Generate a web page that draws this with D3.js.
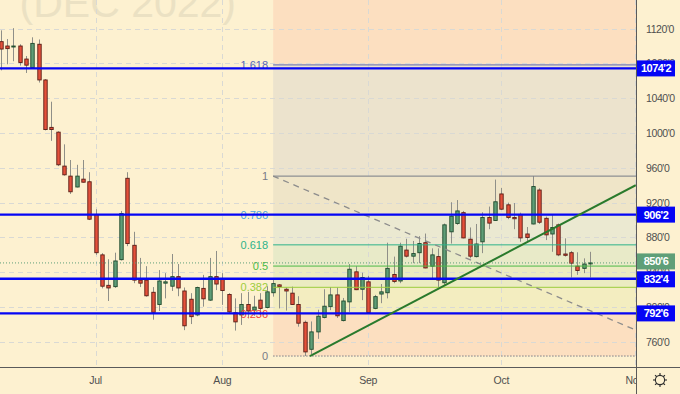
<!DOCTYPE html>
<html>
<head>
<meta charset="utf-8">
<script src="https://cdn.jsdelivr.net/npm/d3@7"></script>
<style>
  html, body { margin: 0; padding: 0; background: #fdf1d0; }
  svg { display: block; font-family: "Liberation Sans", Arial, sans-serif; }
</style>
</head>
<body>
<div id="chart"></div>
<script>
// Daily candles [open, high, low, close], one per trading day (mid June -> late Oct 2022)
const candles = [
  [1105, 1118, 1072, 1096.5], [1100, 1108, 1079, 1097], [1099, 1120.5, 1082.5, 1100], [1100, 1102, 1077.5, 1081],
  [1085, 1088.5, 1069, 1078], [1075, 1110, 1074.5, 1103], [1102, 1107.5, 1058, 1061], [1061, 1062, 1003, 1004],
  [1006.5, 1036, 991, 1004], [1001, 1002, 962, 963.5], [962, 987, 951, 952], [950.5, 969, 930, 932.5],
  [938, 963.5, 937.5, 950.5], [947, 969, 943, 943.5], [944, 955, 900, 901], [906.5, 912.5, 860, 862.5],
  [860, 862, 821.5, 824], [825, 855, 807, 822], [823.5, 862.5, 822, 853], [854.5, 910.5, 853.5, 907.5],
  [948, 955, 870, 873], [871, 886.5, 827.5, 831], [831, 856.5, 823, 827.5], [831, 847, 812, 813],
  [817, 823, 785.5, 794], [803, 842.5, 795.5, 830], [827.5, 839, 810, 829], [824, 861, 818.5, 835],
  [835, 849.5, 812.5, 822], [818.5, 822.5, 773.5, 778.5], [809, 816, 780.5, 789], [791, 823.5, 789.5, 822.5],
  [821.5, 837, 800.5, 809.5], [808, 856.5, 807, 835], [835, 864.5, 819.5, 826.5], [832, 839, 802.5, 819],
  [814.5, 816, 793, 794.5], [793.5, 810, 773, 783], [791, 816, 779.5, 803], [803, 817.5, 787, 795.5],
  [796.5, 813, 790, 800], [808, 816, 791, 798.5], [799.5, 824, 798.5, 817.5], [816.5, 833, 812, 827],
  [825.5, 826.5, 798.5, 823.5], [820.5, 822.5, 796, 818.5], [816, 823.5, 802.5, 803], [803, 812.5, 777.5, 781.5],
  [782.5, 784.5, 743.75, 748.5], [751.5, 783.5, 746, 771.5], [771.5, 797, 763.5, 789.5], [788, 820.5, 787, 801],
  [800.5, 823, 796.5, 814], [814, 822.5, 787.5, 790], [784.5, 810.5, 783.5, 807], [806, 849.5, 794.5, 843.5],
  [840.5, 847, 819.5, 820], [820.5, 839.5, 808, 834], [829, 836, 793, 793.5], [798.5, 814, 797.5, 812],
  [815, 826.5, 804.5, 817.5], [816.5, 874, 810, 844.5], [837.5, 858, 827.5, 829.5], [830, 874, 827.5, 870],
  [865.5, 878.5, 857, 858.5], [858.5, 876, 850.5, 861.5], [862.5, 881.5, 850.5, 873], [874, 884.5, 844.5, 845],
  [847, 867.5, 831.5, 860], [858, 867.5, 823, 831], [828, 896, 825.5, 894.5], [886.5, 920.5, 873, 904.5],
  [896, 923, 894.5, 910.5], [908.5, 910.5, 879, 879.5], [878, 891.5, 856, 858.5], [858, 895.5, 857, 872.5],
  [875, 909, 862, 903], [903, 915.5, 889.5, 896.5], [899.5, 946.5, 899, 921], [930, 937, 911.5, 912.5],
  [917.5, 920, 901, 903], [903, 919.5, 889.5, 901.5], [906.5, 908.5, 875, 879.5], [884, 892, 874, 880],
  [895.5, 950.5, 895, 938.5], [934.5, 936.5, 895.5, 897.5], [902, 904, 877, 883], [884, 906, 863.5, 891.5],
  [894.5, 896, 858.5, 860], [861, 879, 858, 859.5], [862.5, 864.5, 834, 850.5], [847, 863, 837, 842],
  [844.5, 856, 839, 849.5], [850.25, 863.5, 834, 850.75]
];

// Time axis: month names and the index of the month's first trading day
const monthLabels = ["Jul", "Aug", "Sep", "Oct", "Nov"];
const monthIndex = [15, 35, 58, 79, 100];

// Price axis ticks
const priceTicks = [760, 800, 840, 880, 920, 960, 1000, 1040, 1080, 1120, 1160];

// Horizontal support / resistance lines
const keyLevels = [1074.25, 906.25, 832.5, 792.75];
const lastPrice = 850.75;

// Fibonacci retracement
const fibLevels = [0, 0.236, 0.382, 0.5, 0.618, 0.786, 1, 1.618, 2.618];
const fibLow = 743.75;
const fibHigh = 950.5;
const fibStartIndex = 43;
const fibDiagonal = [[43, 950.5], [100.2, 773.6]];

// Rising trend line [index, price]
const trendLine = [[48.8, 743.75], [100.2, 940]];

const watermark = "WHEAT (DEC 2022)";

// Colours
const colors = {
    bg: "#fdf1d0",
    grid: "#d9d9d4",
    axisLine: "#5a5a5a",
    axisText: "#4f4f4f",
    up: "#5f9d77", upBorder: "#1f4a2c",
    down: "#e4503b", downBorder: "#5a1c14",
    wick: "#8f8f88",
    key: "#0505f5",
    last: "#5f9f78",
    trend: "#2a7a2c",
    diagonal: "#8c8c8c",
    fib: {0: "#787b86", 0.236: "#f44336", 0.382: "#9ccc3c", 0.5: "#4cbb45", 0.618: "#2db38a",
          0.786: "#4aa3df", 1: "#787b86", 1.618: "#5667b8", 2.618: "#f44336"}
};

const width = 680, height = 394;
const plotRight = 636, plotBottom = 367;

const x = d3.scaleLinear().domain([0, 100]).range([0.5, 634.5]);
const y = d3.scaleLinear().domain([760, 1120]).range([341.9, 28.6]);

const fmtPrice = p => `${Math.floor(p)}'${Math.round((p - Math.floor(p)) * 8)}`;
const fibPrice = lv => fibLow + lv * (fibHigh - fibLow);

const svg = d3.select("#chart").append("svg")
    .attr("width", width)
    .attr("height", height);

svg.append("rect").attr("width", width).attr("height", height).attr("fill", colors.bg);

const defs = svg.append("defs");
defs.append("clipPath").attr("id", "plotClip")
    .append("rect").attr("width", plotRight).attr("height", plotBottom);
defs.append("clipPath").attr("id", "timeClip")
    .append("rect").attr("y", plotBottom).attr("width", plotRight).attr("height", height - plotBottom);

const plot = svg.append("g").attr("clip-path", "url(#plotClip)");

// Watermark (mostly above the visible area, as in the original)
plot.append("text")
    .attr("x", 236).attr("y", 17)
    .attr("text-anchor", "end")
    .attr("font-size", 41)
    .attr("fill", "#ebe1c3")
    .text(watermark);

// Fib zone fills
const fibX0 = x(fibStartIndex);
const fibFills = plot.append("g");
fibLevels.slice(1).forEach((lv, i) => {
    const lower = fibLevels[i];
    fibFills.append("rect")
        .attr("x", fibX0)
        .attr("y", y(fibPrice(lv)))
        .attr("width", plotRight - fibX0)
        .attr("height", y(fibPrice(lower)) - y(fibPrice(lv)))
        .attr("fill", colors.fib[lv])
        .attr("fill-opacity", 0.1);
});

// Grid
const grid = plot.append("g")
    .attr("stroke", colors.grid)
    .attr("stroke-dasharray", "5,4");
grid.selectAll("line.h").data(priceTicks).join("line")
    .attr("x1", 0).attr("x2", plotRight)
    .attr("y1", d => Math.round(y(d)) + 0.5).attr("y2", d => Math.round(y(d)) + 0.5);
grid.selectAll("line.v").data(monthIndex).join("line")
    .attr("x1", d => Math.round(x(d)) + 0.5).attr("x2", d => Math.round(x(d)) + 0.5)
    .attr("y1", 0).attr("y2", plotBottom);

// Candles
const candleG = plot.append("g");
const bars = candleG.selectAll("g").data(candles).join("g");
bars.append("line")
    .attr("x1", (d, i) => Math.round(x(i)) + 0.5).attr("x2", (d, i) => Math.round(x(i)) + 0.5)
    .attr("y1", d => y(d[1])).attr("y2", d => y(d[2]))
    .attr("stroke", colors.wick)
    .attr("stroke-width", 1);
bars.append("rect")
    .attr("x", (d, i) => Math.round(x(i)) - 1.2)
    .attr("width", 3.4)
    .attr("y", d => y(Math.max(d[0], d[3])))
    .attr("height", d => Math.max(1, Math.abs(y(d[0]) - y(d[3]))))
    .attr("fill", d => d[3] >= d[0] ? colors.up : colors.down)
    .attr("stroke", d => d[3] >= d[0] ? colors.upBorder : colors.downBorder)
    .attr("stroke-width", 0.9);

// Fib level lines and labels
const fibG = plot.append("g");
fibLevels.forEach(lv => {
    const yy = y(fibPrice(lv));
    fibG.append("line")
        .attr("x1", fibX0).attr("x2", plotRight)
        .attr("y1", yy).attr("y2", yy)
        .attr("stroke", colors.fib[lv])
        .attr("stroke-width", 1)
        .attr("stroke-dasharray", lv === 0 ? "1.5,1.5" : null);
    fibG.append("text")
        .attr("x", fibX0 - 5).attr("y", yy)
        .attr("text-anchor", "end")
        .attr("dominant-baseline", "central")
        .attr("font-size", 11)
        .attr("fill", colors.fib[lv])
        .text(String(lv));
});

// Fib diagonal (dashed)
const line = d3.line().x(d => x(d[0])).y(d => y(d[1]));
plot.append("path")
    .attr("d", line(fibDiagonal))
    .attr("fill", "none")
    .attr("stroke", colors.diagonal)
    .attr("stroke-width", 1.3)
    .attr("stroke-dasharray", "6,5");

// Key horizontal levels
plot.selectAll("line.key").data(keyLevels).join("line")
    .attr("x1", 0).attr("x2", plotRight)
    .attr("y1", d => y(d)).attr("y2", d => y(d))
    .attr("stroke", colors.key)
    .attr("stroke-width", 2.4);

// Rising trend line
plot.append("path")
    .attr("d", line(trendLine))
    .attr("fill", "none")
    .attr("stroke", colors.trend)
    .attr("stroke-width", 2);

// Last price dotted line
plot.append("line")
    .attr("x1", 0).attr("x2", plotRight)
    .attr("y1", y(lastPrice)).attr("y2", y(lastPrice))
    .attr("stroke", colors.last)
    .attr("stroke-width", 1)
    .attr("stroke-dasharray", "1,2");

// Axis frame
svg.append("line")
    .attr("x1", plotRight + 0.5).attr("x2", plotRight + 0.5)
    .attr("y1", 0).attr("y2", height)
    .attr("stroke", colors.axisLine);
svg.append("line")
    .attr("x1", 0).attr("x2", width)
    .attr("y1", plotBottom + 0.5).attr("y2", plotBottom + 0.5)
    .attr("stroke", colors.axisLine);

// Price tick labels
svg.append("g").selectAll("text").data(priceTicks.filter(p => y(p) > 6)).join("text")
    .attr("x", 646).attr("y", d => y(d))
    .attr("dominant-baseline", "central")
    .attr("font-size", 10.5)
    .attr("letter-spacing", -0.4)
    .attr("fill", colors.axisText)
    .text(d => `${d}'0`);

// Time labels
svg.append("g").attr("clip-path", "url(#timeClip)")
    .selectAll("text").data(monthLabels).join("text")
    .attr("x", (d, i) => x(monthIndex[i]))
    .attr("y", 380)
    .attr("text-anchor", "middle")
    .attr("dominant-baseline", "central")
    .attr("font-size", 10.5)
    .attr("letter-spacing", -0.2)
    .attr("fill", colors.axisText)
    .text(d => d);

// Price tags on the axis (the two close ones are nudged apart, as the platform does)
const tags = keyLevels.map(p => ({p: p, yy: y(p), fill: colors.key}))
    .concat([{p: lastPrice, yy: y(lastPrice) - 1.5, fill: colors.last}]);
tags.forEach(t => { if (t.p === 832.5) t.yy += 0.5; });
const tagG = svg.append("g");
tags.forEach(t => {
    tagG.append("rect")
        .attr("x", plotRight + 1).attr("y", t.yy - 8)
        .attr("width", 38).attr("height", 16)
        .attr("fill", t.fill);
    tagG.append("text")
        .attr("x", 656).attr("y", t.yy)
        .attr("text-anchor", "middle")
        .attr("dominant-baseline", "central")
        .attr("font-size", 11)
        .attr("letter-spacing", -0.5)
        .attr("font-weight", "bold")
        .attr("fill", "#ffffff")
        .text(fmtPrice(t.p));
});

// Settings gear icon
const gear = svg.append("g").attr("transform", "translate(660,380)")
    .attr("fill", "none").attr("stroke", "#2b2b2b").attr("stroke-width", 1.1);
gear.append("circle").attr("r", 4.6);
d3.range(8).forEach(k => {
    const a = k * Math.PI / 4;
    gear.append("line")
        .attr("x1", Math.cos(a) * 4.6).attr("y1", Math.sin(a) * 4.6)
        .attr("x2", Math.cos(a) * 7).attr("y2", Math.sin(a) * 7);
});
</script>
</body>
</html>
